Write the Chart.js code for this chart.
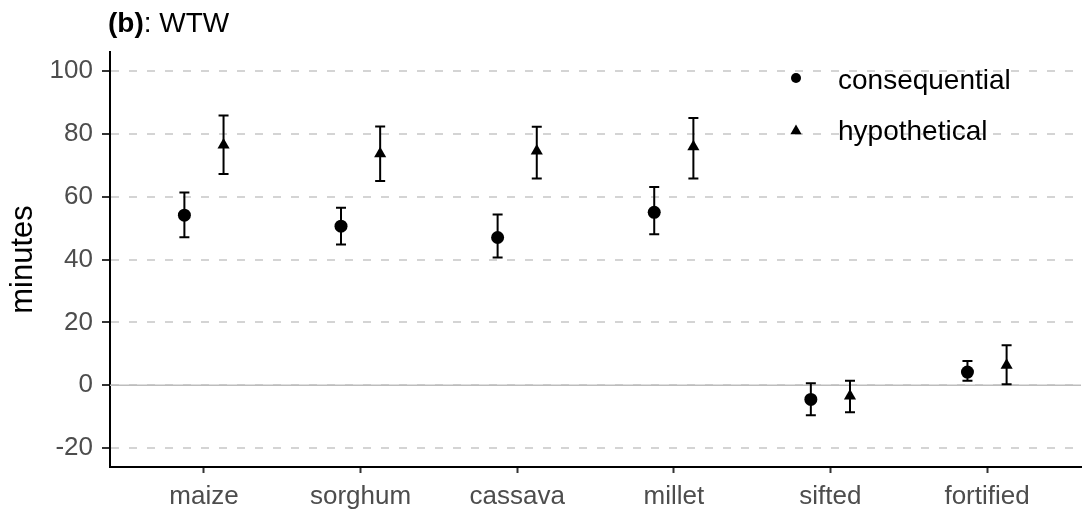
<!DOCTYPE html>
<html>
<head>
<meta charset="utf-8">
<script src="https://cdn.jsdelivr.net/npm/chart.js@4.4.1/dist/chart.umd.min.js"></script>
<style>
html, body { margin: 0; padding: 0; background: #fff; }
#wrap { width: 1088px; height: 513px; }
</style>
</head>
<body>
<div id="wrap"><canvas id="wtwChart" width="1088" height="513"></canvas></div>
<script>
// x轴分类
var categories = ['maize', 'sorghum', 'cassava', 'millet', 'sifted', 'fortified'];

// consequential: 均值和误差上下限
var consMean = [54.1, 50.6, 47.0, 55.0, -4.5, 4.2];
var consLow  = [47.1, 44.8, 40.6, 48.0, -9.5, 1.4];
var consHigh = [61.3, 56.5, 54.3, 63.1, 0.6, 7.7];

// hypothetical: 均值和误差上下限
var hypMean = [76.4, 73.6, 74.5, 75.9, -3.4, 6.4];
var hypLow  = [67.2, 65.0, 65.8, 65.8, -8.6, 0.3];
var hypHigh = [85.8, 82.3, 82.2, 85.0, 1.4, 12.7];

// y轴刻度
var yTicks = [-20, 0, 20, 40, 60, 80, 100];

var seriesNames = ['consequential', 'hypothetical'];
var dodge = 0.125;
var fontFamily = '"Liberation Sans", Arial, sans-serif';

function toPoints(values, shift) {
    return values.map(function(v, i) {
        return { x: i + shift, y: v };
    });
}

// 画三角形
function triangle(ctx, x, y, r) {
    ctx.beginPath();
    ctx.moveTo(x, y - r);
    ctx.lineTo(x + r * 0.866, y + r * 0.5);
    ctx.lineTo(x - r * 0.866, y + r * 0.5);
    ctx.closePath();
    ctx.fill();
}

// 误差线 + 0 参考线
var errorBars = {
    id: 'errorBars',
    beforeDatasetsDraw: function(chart) {
        var ctx = chart.ctx,
            xs = chart.scales.x,
            ys = chart.scales.y,
            area = chart.chartArea;

        ctx.save();
        var y0 = ys.getPixelForValue(0);
        ctx.strokeStyle = '#BDBDBD';
        ctx.lineWidth = 1.5;
        ctx.beginPath();
        ctx.moveTo(area.left, y0);
        ctx.lineTo(area.right, y0);
        ctx.stroke();

        ctx.strokeStyle = '#000';
        ctx.lineWidth = 2;
        chart.data.datasets.forEach(function(ds) {
            ds.data.forEach(function(p, i) {
                var x = xs.getPixelForValue(p.x),
                    yl = ys.getPixelForValue(ds.errLow[i]),
                    yh = ys.getPixelForValue(ds.errHigh[i]);
                ctx.beginPath();
                ctx.moveTo(x, yl);
                ctx.lineTo(x, yh);
                ctx.moveTo(x - 5, yl);
                ctx.lineTo(x + 5, yl);
                ctx.moveTo(x - 5, yh);
                ctx.lineTo(x + 5, yh);
                ctx.stroke();
            });
        });
        ctx.restore();
    }
};

// 标题和图例
var titleLegend = {
    id: 'titleLegend',
    afterDraw: function(chart) {
        var ctx = chart.ctx;
        ctx.save();
        ctx.fillStyle = '#000';
        ctx.textBaseline = 'alphabetic';
        ctx.textAlign = 'left';

        ctx.font = 'bold 28px ' + fontFamily;
        ctx.fillText('(b)', 108, 32);
        var w = ctx.measureText('(b)').width;
        ctx.font = '28px ' + fontFamily;
        ctx.fillText(': WTW', 108 + w, 32);

        ctx.font = '28px ' + fontFamily;
        ctx.beginPath();
        ctx.arc(796, 78, 5, 0, Math.PI * 2);
        ctx.fill();
        ctx.fillText(seriesNames[0], 838, 89);

        triangle(ctx, 796, 131, 6.5);
        ctx.fillText(seriesNames[1], 838, 140);
        ctx.restore();
    }
};

var ctx = document.getElementById('wtwChart').getContext('2d');

var wtwChart = new Chart(ctx, {
    type: 'scatter',
    data: {
        datasets: [
            {
                label: seriesNames[0],
                data: toPoints(consMean, -dodge),
                errLow: consLow,
                errHigh: consHigh,
                pointStyle: 'circle',
                pointRadius: 6.5,
                pointHoverRadius: 6.5,
                backgroundColor: '#000',
                borderColor: '#000',
                borderWidth: 0
            },
            {
                label: seriesNames[1],
                data: toPoints(hypMean, dodge),
                errLow: hypLow,
                errHigh: hypHigh,
                pointStyle: 'triangle',
                pointRadius: 7,
                pointHoverRadius: 7,
                backgroundColor: '#000',
                borderColor: '#000',
                borderWidth: 0
            }
        ]
    },
    options: {
        responsive: false,
        animation: false,
        devicePixelRatio: 1,
        layout: { padding: { top: 52, right: 3, left: 0, bottom: 0 } },
        plugins: {
            legend: { display: false },
            tooltip: { enabled: false }
        },
        scales: {
            x: {
                type: 'linear',
                min: -0.6,
                max: 5.6,
                afterBuildTicks: function(scale) {
                    scale.ticks = categories.map(function(c, i) { return { value: i }; });
                },
                afterFit: function(scale) { scale.height = 46; },
                grid: {
                    drawOnChartArea: false,
                    drawTicks: true,
                    tickLength: 6,
                    tickWidth: 2,
                    tickColor: '#333'
                },
                border: { display: true, color: '#000', width: 2 },
                ticks: {
                    autoSkip: false,
                    maxRotation: 0,
                    padding: 8,
                    color: '#4D4D4D',
                    font: { family: fontFamily, size: 26 },
                    callback: function(v) { return categories[v]; }
                }
            },
            y: {
                type: 'linear',
                min: -26,
                max: 106,
                afterBuildTicks: function(scale) {
                    scale.ticks = yTicks.map(function(v) { return { value: v }; });
                },
                afterFit: function(scale) { scale.width = 110; },
                grid: {
                    color: '#D4D4D4',
                    lineWidth: 2,
                    drawTicks: true,
                    tickLength: 8,
                    tickWidth: 2,
                    tickColor: '#333'
                },
                border: { display: true, color: '#000', width: 2, dash: [8, 10] },
                ticks: {
                    padding: 9,
                    color: '#4D4D4D',
                    font: { family: fontFamily, size: 26 }
                },
                title: {
                    display: true,
                    text: 'minutes',
                    color: '#000',
                    font: { family: fontFamily, size: 31 },
                    padding: { top: 5, bottom: 0 }
                }
            }
        }
    },
    plugins: [errorBars, titleLegend]
});
</script>
</body>
</html>
